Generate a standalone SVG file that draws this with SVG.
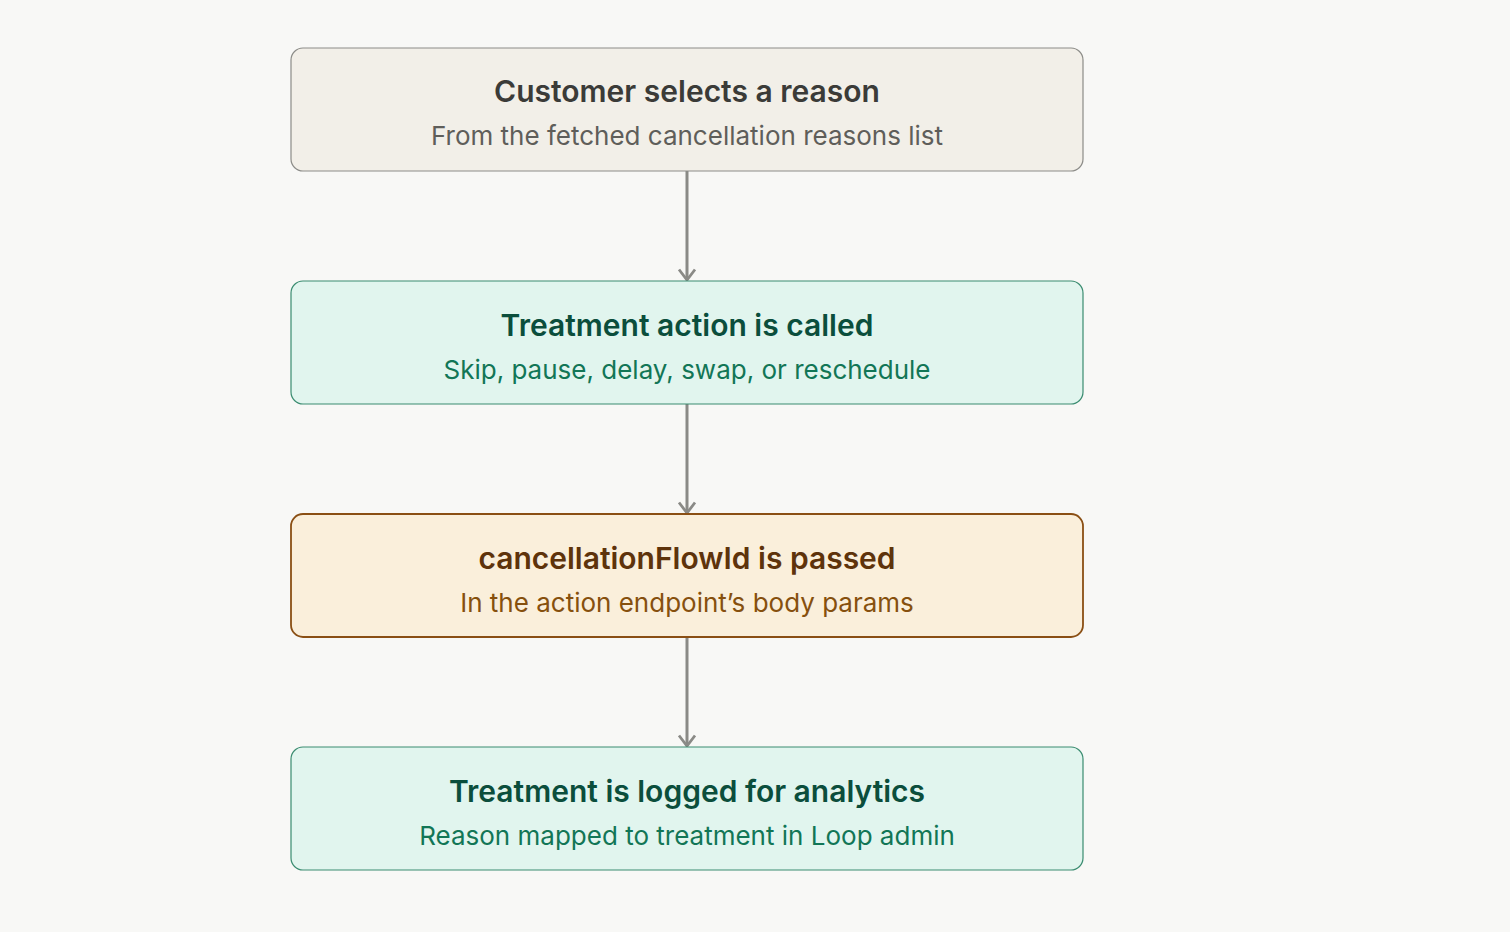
<svg xmlns="http://www.w3.org/2000/svg" width="1510" height="932" viewBox="0 0 1510 932">
<defs>
<marker id="arr" viewBox="0 0 14 20" refX="12" refY="10" markerWidth="14" markerHeight="20" markerUnits="userSpaceOnUse" orient="auto">
<path d="M1.5 2 L12 10 L1.5 18" fill="none" stroke="#8a8a86" stroke-width="2.8"/>
</marker>
<style>
.t{font-family:Inter,"Noto Sans",sans-serif;font-size:30px;font-weight:600;text-anchor:middle}
.s{font-family:Inter,"Noto Sans",sans-serif;font-size:26px;font-weight:400;text-anchor:middle}
.gray rect{fill:#f2efe8;stroke:#8c8c88;stroke-width:1.2}
.gray .t{fill:#3b3b38}.gray .s{fill:#5f5e5a}
.green rect{fill:#e1f5ee;stroke:#3a8c70;stroke-width:1.2}
.green .t{fill:#0b4e3c}.green .s{fill:#127656}
.amber rect{fill:#faefdb;stroke:#8a4f14;stroke-width:1.8}
.amber .t{fill:#5e330b}.amber .s{fill:#86500e}
.c{stroke:#8a8a86;stroke-width:3;fill:none}
</style>
</defs>
<rect width="1510" height="932" fill="#f8f8f6"/>
<g id="connectors">
<line class="c" x1="687" y1="171" x2="687" y2="280" marker-end="url(#arr)"/>
<line class="c" x1="687" y1="404" x2="687" y2="513" marker-end="url(#arr)"/>
<line class="c" x1="687" y1="637" x2="687" y2="746" marker-end="url(#arr)"/>
</g>
<g id="n1" class="gray">
<rect x="291" y="48" width="792" height="123" rx="12"/>
<text class="t" x="687" y="102">Customer selects a reason</text>
<text class="s" x="687" y="145">From the fetched cancellation reasons list</text>
</g>
<g id="n2" class="green">
<rect x="291" y="281" width="792" height="123" rx="12"/>
<text class="t" x="687" y="336">Treatment action is called</text>
<text class="s" x="687" y="379">Skip, pause, delay, swap, or reschedule</text>
</g>
<g id="n3" class="amber">
<rect x="291" y="514" width="792" height="123" rx="12"/>
<text class="t" x="687" y="569">cancellationFlowId is passed</text>
<text class="s" x="687" y="612">In the action endpoint’s body params</text>
</g>
<g id="n4" class="green">
<rect x="291" y="747" width="792" height="123" rx="12"/>
<text class="t" x="687" y="802">Treatment is logged for analytics</text>
<text class="s" x="687" y="845">Reason mapped to treatment in Loop admin</text>
</g>
</svg>
